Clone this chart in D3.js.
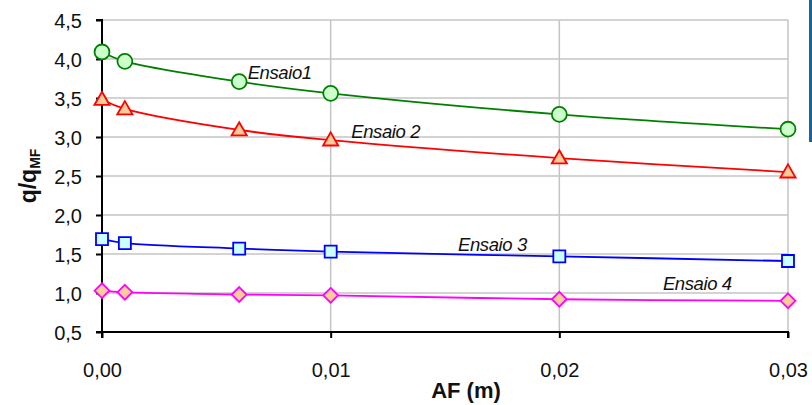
<!DOCTYPE html>
<html><head><meta charset="utf-8">
<script src="https://cdn.jsdelivr.net/npm/d3@7/dist/d3.min.js"></script>
<style>
html,body{margin:0;padding:0;background:#fff;}
svg{display:block;font-family:"Liberation Sans",Arial,sans-serif;}
</style></head>
<body>
<svg id="chart" width="812" height="405"></svg>
<script>
const xValues = [0, 0.001, 0.006, 0.01, 0.02, 0.03];
const ensaio1 = [4.09, 3.97, 3.71, 3.56, 3.29, 3.10];
const ensaio2 = [3.48, 3.36, 3.09, 2.96, 2.73, 2.55];
const ensaio3 = [1.69, 1.64, 1.57, 1.53, 1.47, 1.41];
const ensaio4 = [1.03, 1.01, 0.98, 0.97, 0.92, 0.90];
const seriesNames = ["Ensaio1", "Ensaio 2", "Ensaio 3", "Ensaio 4"];
const xTicks = [0, 0.01, 0.02, 0.03];
const yTicks = [0.5, 1.0, 1.5, 2.0, 2.5, 3.0, 3.5, 4.0, 4.5];

const svg = d3.select("#chart");
const x = d3.scaleLinear().domain([0, 0.03]).range([102, 788]);
const y = d3.scaleLinear().domain([0.5, 4.5]).range([332, 20]);
const fmtX = v => d3.format(".2f")(v).replace(".", ",");
const fmtY = v => d3.format(".1f")(v).replace(".", ",");

// decorative blue bar on right edge
svg.append("rect").attr("x", 809).attr("y", 0).attr("width", 3).attr("height", 142).attr("fill", "#1a6496");

// gridlines
const grid = svg.append("g");
grid.selectAll(".hg").data(yTicks.filter(d => d > 0.5)).enter().append("line")
  .attr("x1", x(0)).attr("x2", x(0.03)).attr("y1", d => y(d)).attr("y2", d => y(d))
  .attr("stroke", "#c4c4c4").attr("stroke-width", 1.5);
grid.selectAll(".vg").data(xTicks.filter(d => d > 0)).enter().append("line")
  .attr("x1", d => x(d)).attr("x2", d => x(d)).attr("y1", y(0.5)).attr("y2", y(4.5))
  .attr("stroke", "#c4c4c4").attr("stroke-width", 1.5);

// axes
const yAxis = d3.axisLeft(y).tickValues(yTicks).tickFormat(fmtY).tickSize(6).tickPadding(14);
const xAxis = d3.axisBottom(x).tickValues(xTicks).tickFormat(fmtX).tickSize(6).tickPadding(25);
const gy = svg.append("g").attr("transform", `translate(${x(0)},0)`).call(yAxis);
const gx = svg.append("g").attr("transform", `translate(0,${y(0.5)})`).call(xAxis);
[gy, gx].forEach(g => {
  g.select(".domain").attr("stroke", "#000").attr("stroke-width", 2);
  g.selectAll(".tick line").attr("stroke", "#000").attr("stroke-width", 2);
  g.selectAll(".tick text").attr("fill", "#111").style("font-size", "20px")
    .style("font-family", "'Liberation Sans', Arial, sans-serif");
});
gy.select(".domain").attr("d", `M-6,${y(0.5)}H0V${y(4.5)}H-6`);
gx.select(".domain").attr("d", `M${x(0)},6V0H${x(0.03)}V6`);
gy.selectAll(".tick text").attr("dy", "0.36em");
gx.selectAll(".tick text").attr("dy", "0.71em");

// series
const line = d3.line().x(d => x(d[0])).y(d => y(d[1])).curve(d3.curveCatmullRom.alpha(0.5));
const diamond = {draw(ctx, size) { const r = Math.sqrt(size / 2); ctx.moveTo(0, -r); ctx.lineTo(r, 0); ctx.lineTo(0, r); ctx.lineTo(-r, 0); ctx.closePath(); }};
const series = [
  {name: seriesNames[0], vals: ensaio1, stroke: "#008000", fill: "#ccffcc", sym: d3.symbolCircle, size: 175, dy: 0, lx: 0.00637, ly: 3.75},
  {name: seriesNames[1], vals: ensaio2, stroke: "#ff0000", fill: "#ffcc99", sym: d3.symbolTriangle, size: 100, dy: 1, lx: 0.01090, ly: 2.99},
  {name: seriesNames[2], vals: ensaio3, stroke: "#0000ff", fill: "#ccffff", sym: d3.symbolSquare, size: 144, dy: 0, lx: 0.01557, ly: 1.54},
  {name: seriesNames[3], vals: ensaio4, stroke: "#ff00ff", fill: "#ffcc99", sym: diamond, size: 110, dy: 0, lx: 0.02453, ly: 1.04}
];
series.forEach(s => {
  const pts = xValues.map((xv, i) => [xv, s.vals[i]]);
  svg.append("path").datum(pts).attr("d", line).attr("fill", "none")
    .attr("stroke", s.stroke).attr("stroke-width", 1.8);
  svg.append("g").selectAll("path").data(pts).enter().append("path")
    .attr("d", d3.symbol().type(s.sym).size(s.size))
    .attr("transform", d => `translate(${x(d[0])},${y(d[1]) + s.dy})`)
    .attr("fill", s.fill).attr("stroke", s.stroke).attr("stroke-width", 1.8);
  svg.append("text").attr("x", x(s.lx)).attr("y", y(s.ly))
    .attr("font-style", "italic").attr("font-size", 18.5).attr("fill", "#111")
    .attr("letter-spacing", -0.4).text(s.name);
});

// axis titles
svg.append("text").attr("x", 466).attr("y", 398).attr("text-anchor", "middle")
  .attr("font-weight", "bold").attr("font-size", 22).attr("fill", "#111").text("AF (m)");
const yt = svg.append("text").attr("transform", "translate(36,176) rotate(-90)")
  .attr("text-anchor", "middle").attr("font-weight", "bold").attr("font-size", 23).attr("fill", "#111");
yt.append("tspan").text("q/q");
yt.append("tspan").attr("font-size", 14).attr("dy", 4).text("MF");
</script>
</body></html>
